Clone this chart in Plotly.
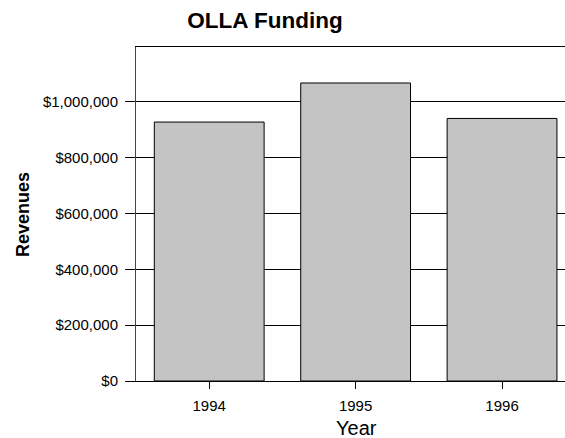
import plotly.graph_objects as go

years = ["1994", "1995", "1996"]
revenues = [928000, 1068000, 941000]
y_tickvals = [0, 200000, 400000, 600000, 800000, 1000000]
y_ticktext = ["$0", "$200,000", "$400,000", "$600,000", "$800,000", "$1,000,000"]

FONT = "Liberation Sans, Arial, sans-serif"
W, H = 565, 438
L, R, T, B = 136, 0, 47, 57

fig = go.Figure(go.Bar(
    x=years, y=revenues,
    width=0.75,
    marker=dict(color="#c4c4c4", line=dict(color="#000000", width=1)),
))

fig.update_layout(
    width=W, height=H,
    margin=dict(l=L, r=R, t=T, b=B, autoexpand=False),
    paper_bgcolor="white", plot_bgcolor="white",
    showlegend=False,
    font=dict(family=FONT, color="#000000"),
    title=dict(text="<b>OLLA Funding</b>", x=265/W, xanchor="center",
               y=1 - 20/H, yanchor="middle",
               font=dict(family=FONT, size=22.5, color="#000000")),
    annotations=[
        dict(text="<b>Revenues</b>", xref="paper", yref="paper",
             x=-(L - 23)/(W - L - R), y=0.5, xanchor="center", yanchor="middle",
             textangle=-90, showarrow=False,
             font=dict(family=FONT, size=18, color="#000000")),
        dict(text="Year", xref="paper", yref="paper",
             x=(356 - L)/(W - L - R), y=-(428 - (H - B))/(H - T - B),
             xanchor="center", yanchor="middle", showarrow=False,
             font=dict(family=FONT, size=20, color="#000000")),
    ],
)

fig.update_xaxes(
    type="category", range=[-0.5, 2.43], automargin=False,
    showline=True, linecolor="#000000", linewidth=1, mirror=True,
    ticks="outside", ticklen=7, tickcolor="#000000",
    tickfont=dict(family=FONT, size=15), ticklabelstandoff=4,
    showgrid=False,
)
fig.update_yaxes(
    range=[0, 1197000], automargin=False,
    tickvals=y_tickvals, ticktext=y_ticktext,
    showline=True, linecolor="#444444", linewidth=1,
    ticks="outside", ticklen=10, tickcolor="#000000",
    tickfont=dict(family=FONT, size=15), ticklabelstandoff=4,
    showgrid=True, gridcolor="#000000", gridwidth=1,
    zeroline=False,
)

fig.write_html("out.html",
               config={"displayModeBar": False},
               post_script="document.body.style.margin='0';document.body.style.overflow='hidden';")
